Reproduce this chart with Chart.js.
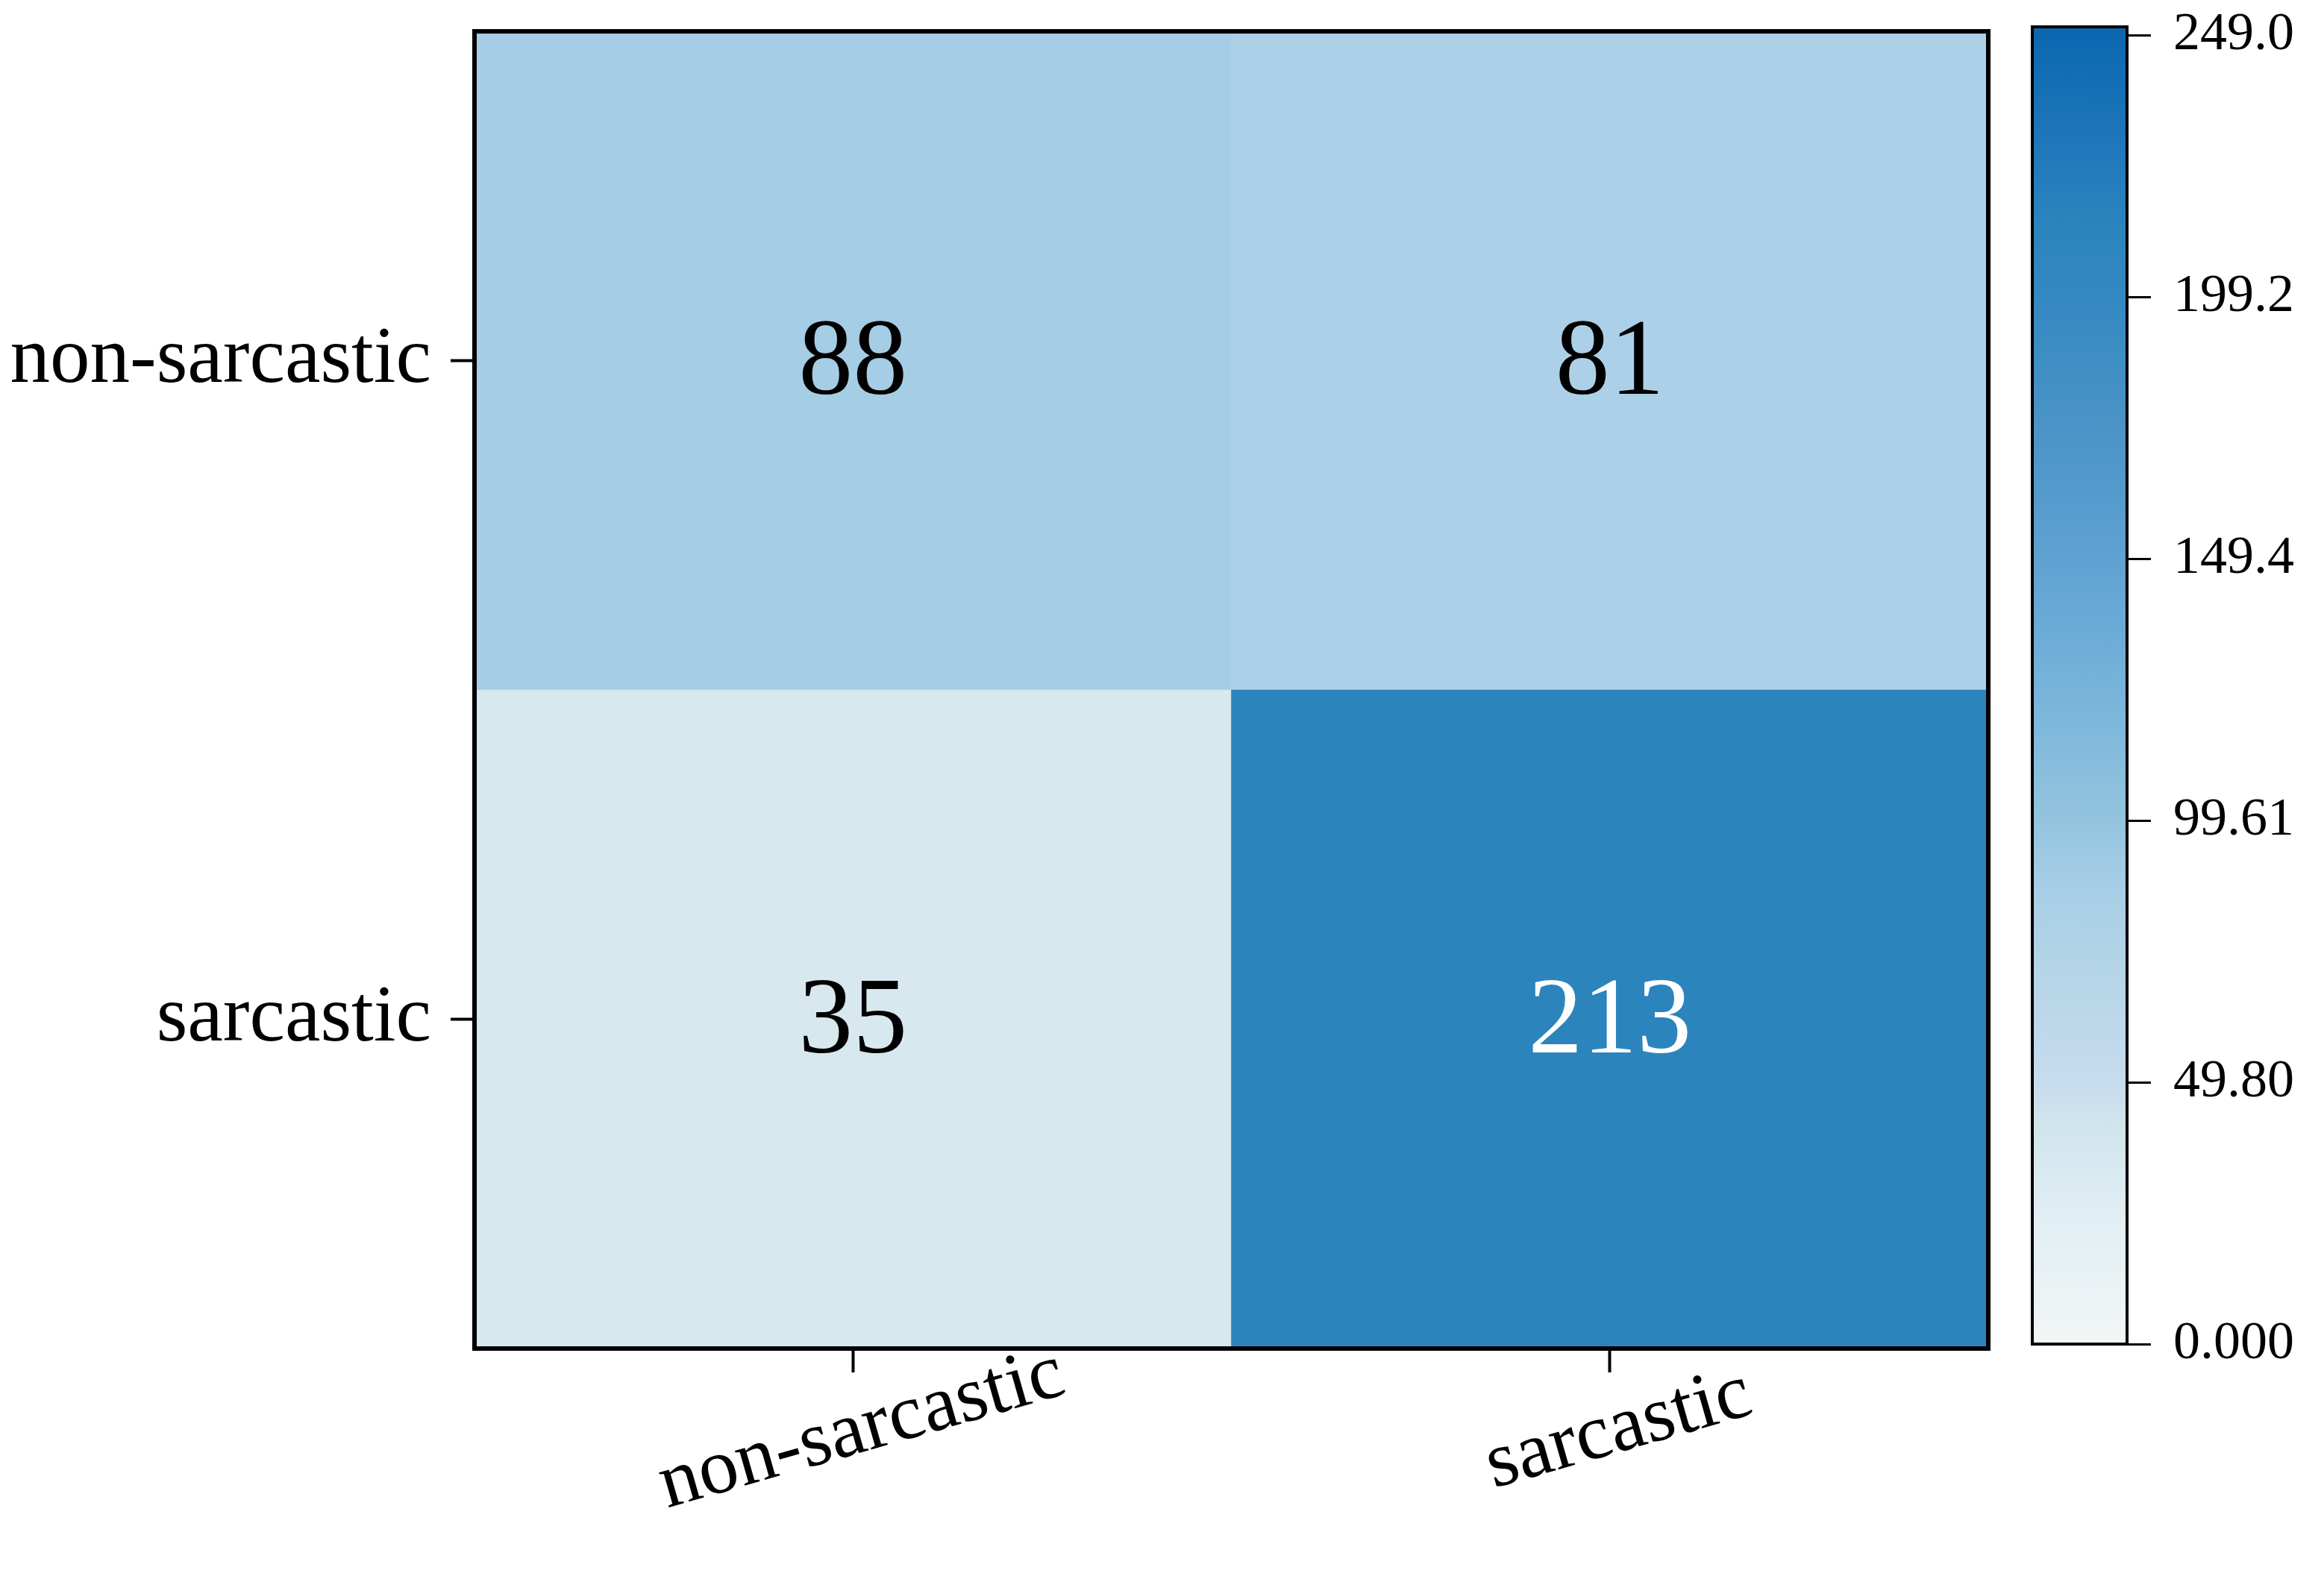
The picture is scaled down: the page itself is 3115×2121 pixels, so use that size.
<!DOCTYPE html>
<html>
<head>
<meta charset="utf-8">
<script src="https://cdn.jsdelivr.net/npm/chart.js@4.4.0/dist/chart.umd.min.js"></script>
<style>
  html, body { margin: 0; padding: 0; background: #fff; }
  #wrap { position: relative; width: 3115px; height: 2121px; }
  #heat { position: absolute; left: 0; top: 0; }
  #cbar { position: absolute; left: 2700px; top: 0; }
</style>
</head>
<body>
<div id="wrap">
  <canvas id="heat" width="2700" height="2121"></canvas>
  <canvas id="cbar" width="415" height="2121"></canvas>
</div>
<script>
// confusion matrix: columns = predicted, rows = true
const predLabels = ['non-sarcastic', 'sarcastic'];
const trueLabels = ['non-sarcastic', 'sarcastic'];
const rowNonSarcastic = [88, 81];
const rowSarcastic = [35, 213];

// colorbar
const vmax = 249.0;
const colorbarMax = 250.6;
const colorbarTicks = [0, 49.8, 99.61, 149.4, 199.2, 249.0];
const colorbarTickLabels = ['0.000', '49.80', '99.61', '149.4', '199.2', '249.0'];

// colormap stops (fraction of vmax, colour)
const cmapPos = [0.00, 0.10, 0.17, 0.20, 0.27, 0.35, 0.40, 0.47, 0.55, 0.62, 0.70, 0.80, 0.855, 0.92, 1.00];
const cmapCol = ['#f2f6f6', '#e0eef4', '#d0e4ec', '#c6dbef', '#b8d6e8', '#a6cee6', '#93c4de', '#80b8dc',
                 '#6aaad6', '#5a9fd0', '#4a94c8', '#3588c2', '#2c84bd', '#2076ba', '#0b68b0'];

const FONT = "'Liberation Serif', 'Times New Roman', serif";

function hexToRgb(h) {
  return [parseInt(h.slice(1, 3), 16), parseInt(h.slice(3, 5), 16), parseInt(h.slice(5, 7), 16)];
}

function cmap(v) {
  const t = Math.max(0, Math.min(1, v / vmax));
  for (let i = 1; i < cmapPos.length; i++) {
    if (t <= cmapPos[i]) {
      const f = (t - cmapPos[i - 1]) / (cmapPos[i] - cmapPos[i - 1]);
      const a = hexToRgb(cmapCol[i - 1]), b = hexToRgb(cmapCol[i]);
      const c = a.map((x, k) => Math.round(x + (b[k] - x) * f));
      return 'rgb(' + c.join(',') + ')';
    }
  }
  return cmapCol[cmapCol.length - 1];
}

// black frame round the chart area
const framePlugin = {
  id: 'frame',
  afterDatasetsDraw(chart, args, opts) {
    const { ctx, chartArea: a } = chart;
    ctx.save();
    ctx.strokeStyle = '#000';
    ctx.lineWidth = opts.width || 5;
    ctx.strokeRect(a.left, a.top, a.right - a.left, a.bottom - a.top);
    ctx.restore();
  }
};

// numbers inside the cells + rotated x labels
const cellTextPlugin = {
  id: 'cellText',
  afterDatasetsDraw(chart) {
    const ctx = chart.ctx;
    ctx.save();
    ctx.font = '146px ' + FONT;
    ctx.textAlign = 'center';
    ctx.textBaseline = 'middle';
    chart.data.datasets.forEach((ds, di) => {
      chart.getDatasetMeta(di).data.forEach((bar, i) => {
        const v = ds.values[i];
        const p = bar.getCenterPoint();
        ctx.fillStyle = v > vmax / 2 ? '#fff' : '#000';
        ctx.fillText(String(v), p.x, p.y + 6);
      });
    });
    ctx.restore();
  },
  afterDraw(chart) {
    const ctx = chart.ctx;
    const xs = chart.scales.x;
    ctx.save();
    ctx.font = '106px ' + FONT;
    ctx.fillStyle = '#000';
    ctx.textAlign = 'center';
    ctx.textBaseline = 'middle';
    predLabels.forEach((lab, i) => {
      const x = xs.getPixelForTick(i);
      ctx.save();
      ctx.translate(x + 12, chart.chartArea.bottom + 110);
      ctx.rotate(-16 * Math.PI / 180);
      ctx.fillText(lab, 0, 0);
      ctx.restore();
    });
    ctx.restore();
  }
};

new Chart(document.getElementById('heat'), {
  type: 'bar',
  data: {
    labels: predLabels,
    datasets: [
      {
        label: trueLabels[1],
        data: rowSarcastic.map(() => [0, 1]),
        values: rowSarcastic,
        backgroundColor: rowSarcastic.map(cmap)
      },
      {
        label: trueLabels[0],
        data: rowNonSarcastic.map(() => [1, 2]),
        values: rowNonSarcastic,
        backgroundColor: rowNonSarcastic.map(cmap)
      }
    ]
  },
  options: {
    responsive: false,
    animation: false,
    devicePixelRatio: 1,
    datasets: {
      bar: { grouped: false, barPercentage: 1, categoryPercentage: 1, borderWidth: 0 }
    },
    layout: { padding: { left: 0, top: 42, right: 35, bottom: 0 } },
    plugins: {
      legend: { display: false },
      tooltip: { enabled: false },
      frame: { width: 6 }
    },
    scales: {
      x: {
        type: 'category',
        offset: true,
        grid: { offset: false, drawOnChartArea: false, drawTicks: true, tickLength: 32, tickWidth: 4, tickColor: '#000' },
        border: { display: false },
        ticks: { display: false },
        afterFit: s => { s.height = 313; s.paddingLeft = 0; s.paddingRight = 0; }
      },
      y: {
        type: 'linear',
        min: 0,
        max: 2,
        afterBuildTicks: s => { s.ticks = [{ value: 0.5 }, { value: 1.5 }]; },
        grid: { drawOnChartArea: false, drawTicks: true, tickLength: 32, tickWidth: 4, tickColor: '#000' },
        border: { display: false },
        ticks: {
          callback: (v, i) => (i === 0 ? trueLabels[1] : trueLabels[0]),
          font: { family: FONT, size: 107 },
          color: '#000',
          padding: 26
        },
        afterFit: s => { s.width = 636; s.paddingTop = 0; s.paddingBottom = 0; }
      }
    }
  },
  plugins: [framePlugin, cellTextPlugin]
});

// colorbar
new Chart(document.getElementById('cbar'), {
  type: 'bar',
  data: {
    labels: ['cbar'],
    datasets: [{
      data: [[0, colorbarMax]],
      borderWidth: 0,
      barPercentage: 1,
      categoryPercentage: 1,
      backgroundColor: (c) => {
        const chart = c.chart;
        const ys = chart.scales.y;
        if (!chart.chartArea || !ys) return cmapCol[0];
        const g = chart.ctx.createLinearGradient(0, ys.getPixelForValue(0), 0, ys.getPixelForValue(vmax));
        cmapPos.forEach((p, i) => g.addColorStop(p, cmapCol[i]));
        return g;
      }
    }]
  },
  options: {
    responsive: false,
    animation: false,
    devicePixelRatio: 1,
    layout: { padding: { left: 24, top: 36, right: 0, bottom: 319 } },
    plugins: {
      legend: { display: false },
      tooltip: { enabled: false },
      frame: { width: 4 }
    },
    scales: {
      x: { display: false, offset: true },
      y: {
        position: 'right',
        min: 0,
        max: colorbarMax,
        afterBuildTicks: s => { s.ticks = colorbarTicks.map(v => ({ value: v })); },
        grid: { drawOnChartArea: false, drawTicks: true, tickLength: 32, tickWidth: 3, tickColor: '#000' },
        border: { display: false },
        ticks: {
          callback: (v, i) => colorbarTickLabels[i],
          font: { family: FONT, size: 72 },
          color: '#000',
          padding: 30
        },
        afterFit: s => { s.width = 264; s.paddingTop = 0; s.paddingBottom = 0; }
      }
    }
  },
  plugins: [framePlugin]
});
</script>
</body>
</html>
